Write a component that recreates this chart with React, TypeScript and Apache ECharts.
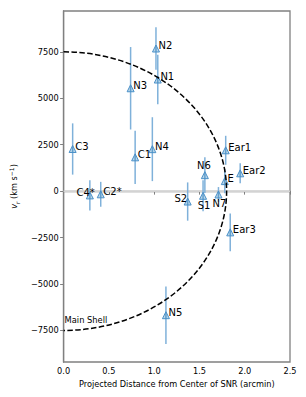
import React, { useEffect, useRef } from "react";
import * as echarts from "echarts";

const regionNames = ["C3", "C4*", "C2*", "C1", "N4", "N3", "N2", "N1", "N6", "S2", "S1", "N7", "E", "Ear1", "Ear2", "Ear3", "N5"];
const distance = [0.10, 0.29, 0.41, 0.79, 0.98, 0.74, 1.02, 1.04, 1.56, 1.37, 1.54, 1.71, 1.78, 1.79, 1.95, 1.84, 1.13];
const velocity = [2270, -230, -170, 1820, 2260, 5540, 7680, 6010, 860, -560, -250, -180, 540, 2200, 960, -2220, -6680];
const velocityErr = [1380, 810, 670, 1430, 1720, 2220, 1150, 1330, 960, 1030, 830, 400, 650, 780, 540, 1020, 1550];
// label placement: side of the marker
const labelSide = ["right", "left", "right", "right", "right", "right", "right", "right", "above", "leftNear", "below", "below", "right", "right", "right", "right", "right"];

const xTicks = [0, 0.5, 1.0, 1.5, 2.0, 2.5];
const yTicks = [-7500, -5000, -2500, 0, 2500, 5000, 7500];
const shellRadius = 1.8;
const shellVelocity = 7500;

const FONT = "DejaVu Sans";

function labelFor(side: string) {
  const base = { show: true, position: "inside", fontFamily: FONT, fontSize: 10, color: "#000", verticalAlign: "middle" };
  if (side === "left") return { ...base, align: "right", offset: [5, -3] };
  if (side === "leftNear") return { ...base, align: "right", offset: [-0.5, -3] };
  if (side === "above") return { ...base, align: "center", offset: [-1, -10] };
  if (side === "below") return { ...base, align: "center", offset: [1, 9.5] };
  return { ...base, align: "left", offset: [2.6, -2.6] };
}

export default function App() {
  const ref = useRef<HTMLDivElement>(null);
  useEffect(() => {
    if (!ref.current) return;
    const chart = echarts.init(ref.current, null, { renderer: "svg" });
    const points = regionNames.map((n, i) => ({
      name: n,
      value: [distance[i], velocity[i]],
      label: { ...labelFor(labelSide[i]), formatter: n },
    }));
    const errs = regionNames.map((n, i) => [distance[i], velocity[i], velocityErr[i]]);
    const frame = "#808080";
    chart.setOption({
      animation: false,
      grid: { left: 60, right: 16, top: 11, bottom: 35, show: true, borderColor: frame, borderWidth: 1.3, backgroundColor: "transparent" },
      xAxis: {
        type: "value",
        min: 0,
        max: 2.5,
        interval: 0.5,
        name: "Projected Distance from Center of SNR (arcmin)",
        nameLocation: "middle",
        nameGap: 15,
        nameTextStyle: { fontFamily: FONT, fontSize: 8.2, color: "#000" },
        axisLine: { show: true, lineStyle: { color: frame, width: 1.3 } },
        axisTick: { show: true, length: 3.5, lineStyle: { color: frame } },
        axisLabel: { fontFamily: FONT, fontSize: 8.2, color: "#000", margin: 5, formatter: (v: number) => v.toFixed(1), customValues: xTicks },
        splitLine: { show: false },
      },
      yAxis: {
        type: "value",
        min: -9200,
        max: 9700,
        name: "{it|v}{sub|r} (km s{sup|−1})",
        nameLocation: "middle",
        nameGap: 37,
        nameRotate: 90,
        nameTextStyle: {
          fontFamily: FONT,
          fontSize: 8.2,
          color: "#000",
          rich: {
            it: { fontFamily: FONT, fontSize: 8.2, fontStyle: "italic", color: "#000", lineHeight: 12, verticalAlign: "middle" },
            sub: { fontFamily: FONT, fontSize: 6, color: "#000", verticalAlign: "bottom", lineHeight: 12 },
            sup: { fontFamily: FONT, fontSize: 6, color: "#000", verticalAlign: "top", lineHeight: 12 },
          },
        },
        axisLine: { show: true, lineStyle: { color: frame, width: 1.3 } },
        axisTick: { show: true, length: 3.5, lineStyle: { color: frame }, customValues: yTicks },
        axisLabel: { fontFamily: FONT, fontSize: 8.2, color: "#000", margin: 5, customValues: yTicks, formatter: (v: number) => String(v).replace("-", "−") },
        splitLine: { show: false },
      },
      series: [
        {
          type: "line",
          data: [[0, 0], [2.5, 0]],
          symbol: "none",
          silent: true,
          lineStyle: { color: "#d3d3d3", width: 1.5 },
          z: 1,
        },
        {
          type: "custom",
          data: [[0, 0]],
          silent: true,
          z: 5,
          renderItem: (params: any, api: any) => {
            const c = api.coord([0, 0]);
            const top = api.coord([0, shellVelocity]);
            const right = api.coord([shellRadius, 0]);
            const rx = right[0] - c[0];
            const ry = c[1] - top[1];
            return {
              type: "group",
              children: [
                {
                  type: "path",
                  shape: { pathData: `M ${c[0]} ${c[1] - ry} A ${rx} ${ry} 0 0 1 ${c[0]} ${c[1] + ry}` },
                  style: { stroke: "#000", fill: "none", lineWidth: 1.5, lineDash: [5.5, 2.4] },
                },
                {
                  type: "text",
                  x: c[0] + 1,
                  y: c[1] + ry - 6,
                  style: { text: "Main Shell", fill: "#000", fontFamily: FONT, fontSize: 8.3, verticalAlign: "bottom", align: "left" },
                },
              ],
            };
          },
        },
        {
          type: "custom",
          data: errs,
          silent: true,
          z: 3,
          renderItem: (params: any, api: any) => {
            const x = api.value(0);
            const y = api.value(1);
            const e = api.value(2);
            const p1 = api.coord([x, y + e]);
            const p2 = api.coord([x, y - e]);
            return {
              type: "line",
              shape: { x1: p1[0], y1: p1[1], x2: p2[0], y2: p2[1] },
              style: { stroke: "#7fb1da", lineWidth: 1.5 },
            };
          },
        },
        {
          type: "scatter",
          data: points,
          symbol: "triangle",
          symbolSize: 7,
          z: 4,
          itemStyle: { color: "rgba(31,119,180,0.3)", borderColor: "#4a90c8", borderWidth: 1, opacity: 1 },
        },
      ],
    });
    return () => chart.dispose();
  }, []);
  return <div ref={ref} style={{ width: 306, height: 397, position: "absolute", left: 0, top: 0 }} />;
}
